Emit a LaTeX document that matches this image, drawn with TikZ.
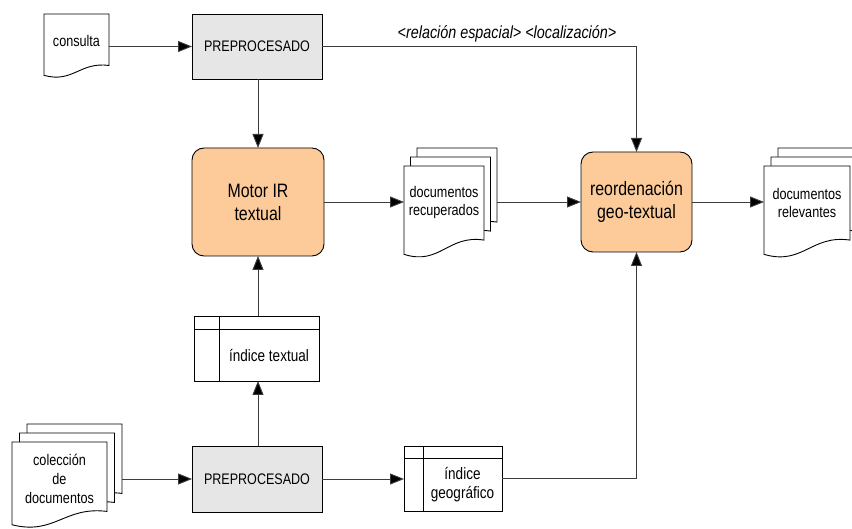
\documentclass[tikz,border=0pt]{standalone}
\usepackage{fontspec}
\setmainfont{Liberation Sans}[FakeStretch=0.82]
\usetikzlibrary{arrows.meta,calc}
\definecolor{peach}{HTML}{FCCB99}
\definecolor{boxgray}{HTML}{E6E6E6}
\definecolor{linegray}{HTML}{3C3C3C}
% #1 node, #2 dx (right), #3 dy (up), in pt
\newcommand\docshape[3]{%
  \path[docline] let \p1=(#1.north west), \p2=(#1.south east),
    \n1={\x2-\x1}, \n2={\y1-\y2}, \n3={\x1+#2}, \n4={\y1+#3} in
    (\n3,\n4) -- ({\n3+\n1},\n4) -- ({\n3+\n1},{\n4-0.78*\n2})
    .. controls ({\n3+0.55*\n1},{\n4-0.72*\n2}) and ({\n3+0.45*\n1},{\n4-1.05*\n2}) ..
    (\n3,{\n4-0.93*\n2}) -- cycle;}
\newcommand\idxframe[3]{% node, header drop, column offset
  \draw[boxline] (#1.north west) rectangle (#1.south east);
  \draw[boxline] ($(#1.north west)+(0,#2)$) -- ($(#1.north east)+(0,#2)$);
  \draw[boxline] ($(#1.north west)+(#3,0)$) -- ($(#1.south west)+(#3,0)$);}
\tikzset{
  every node/.style={outer sep=0pt, inner sep=0pt},
  docline/.style={draw=black, fill=white, line width=0.9pt},
  boxline/.style={draw=black, line width=0.9pt},
  placeholder/.style={rectangle, draw=none},
  procbox/.style={rectangle, draw=black, line width=0.9pt, fill=boxgray,
    minimum width=130, minimum height=65, font=\fontsize{15.3}{18}\selectfont},
  corebox/.style={rectangle, rounded corners=12pt, draw=black, line width=0.9pt, fill=peach,
    align=center, font=\fontsize{19.4}{23}\selectfont},
  smalltext/.style={align=center, font=\fontsize{15.4}{18}\selectfont},
  idxtext/.style={align=center, font=\fontsize{16.5}{19}\selectfont},
  lbl/.style={font=\fontsize{17.5}{20}\selectfont\itshape},
  conn/.style={draw=linegray, line width=0.9pt},
  arr/.style={conn, -{Triangle[length=14pt,width=11pt,fill=black]}},
}
\begin{document}
\begin{tikzpicture}[x=1pt, y=-1pt]
\useasboundingbox (0,0) rectangle (852,529);
\clip (0,0) rectangle (852,529);

% placeholders for documents
\node[placeholder, minimum width=65, minimum height=66] (cons) at (76.5,47) {};
\node[placeholder, minimum width=80, minimum height=95] (rec) at (444,213.5) {};
\node[placeholder, minimum width=86, minimum height=95] (rel) at (807,213.5) {};
\node[placeholder, minimum width=95, minimum height=89] (coll) at (59.5,486.5) {};

% document shapes
\docshape{cons}{0}{0}
\docshape{rec}{13}{18}
\docshape{rec}{6.5}{9}
\docshape{rec}{0}{0}
\docshape{rel}{14}{18}
\docshape{rel}{7}{9}
\docshape{rel}{0}{0}
\docshape{coll}{15}{18}
\docshape{coll}{7.5}{9}
\docshape{coll}{0}{0}

\coordinate (rec-b) at ($(rec.east)+(13,0)$);
\coordinate (coll-b) at ($(coll.east)+(15,0)$);

% document texts
\node[smalltext] (cons-t) at (76.5,41) {consulta};
\node[smalltext] (rec-t) at (444,203) {documentos\\recuperados};
\node[smalltext] (rel-t) at (807,203) {documentos\\relevantes};
\node[smalltext, font=\fontsize{15.4}{19}\selectfont] (coll-t) at (59.5,479) {colección\\de\\documentos};

% process boxes
\node[procbox] (prep1) at (257,46.5) {PREPROCESADO};
\node[procbox, minimum height=66] (prep2) at (257,479) {PREPROCESADO};
\node[corebox, minimum width=132, minimum height=108] (motor) at (258,202) {Motor IR\\textual};
\node[corebox, minimum width=111, minimum height=100] (reord) at (636.5,202) {reordenación\\geo-textual};

% index boxes
\node[placeholder, minimum width=125, minimum height=65] (idxt) at (256.5,348.5) {};
\idxframe{idxt}{13}{25}
\node[idxtext] (idxt-t) at (269,356) {índice textual};
\node[placeholder, minimum width=98, minimum height=65] (idxg) at (453,478.5) {};
\idxframe{idxg}{12}{19}
\node[idxtext] (idxg-t) at (462.5,485) {índice\\geográfico};

% connectors
\draw[arr] (cons.east |- prep1.west) -- (prep1.west);
\draw[arr] (prep1.east) -| (reord.north);
\node[lbl, anchor=south] (spat) at (507,42) {<relación espacial> <localización>};
\draw[arr] (motor.north |- prep1.south) -- (motor.north);
\draw[arr] (motor.east) -- (motor.east -| rec.west);
\draw[arr] (rec-b |- reord.west) -- (reord.west);
\draw[arr] (reord.east) -- (reord.east -| rel.west);
\draw[arr] (motor.south |- idxt.north) -- (motor.south);
\draw[arr] (motor.south |- prep2.north) -- (motor.south |- idxt.south);
\draw[arr] (coll-b |- prep2.west) -- (prep2.west);
\draw[arr] (prep2.east) -- (prep2.east -| idxg.west);
\draw[arr] (idxg.east) -| (reord.south);
\end{tikzpicture}
\end{document}
